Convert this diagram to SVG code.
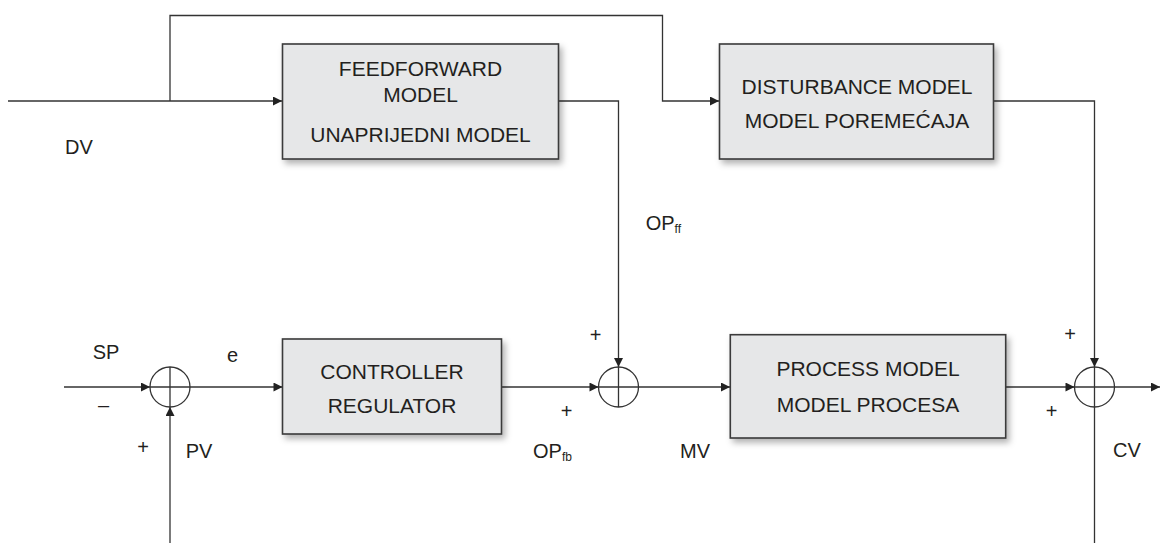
<svg xmlns="http://www.w3.org/2000/svg" width="1160" height="543" viewBox="0 0 1160 543">
<style>
  .box { fill: #e6e7e8; stroke: #3a3a3a; stroke-width: 1.6; filter: url(#shadow); }
  .bt { font-family: "Liberation Sans", Arial, sans-serif; font-size: 21px; fill: #231f20; text-anchor: middle; }
  .lb { font-family: "Liberation Sans", Arial, sans-serif; font-size: 20px; fill: #231f20; }
  .sm { font-size: 12px; }
  .ln { fill: none; stroke: #333; stroke-width: 1.3; }
  .ar { marker-end: url(#arrow); }
  .sum { fill: none; stroke: #333; stroke-width: 1.3; }
</style>
<defs>
  <marker id="arrow" viewBox="0 0 10 10" refX="10" refY="5" markerWidth="10" markerHeight="9" markerUnits="userSpaceOnUse" orient="auto">
    <path d="M0,0 L10,5 L0,10 z" fill="#222"/>
  </marker>
  <filter id="shadow" x="-10%" y="-10%" width="130%" height="140%">
    <feDropShadow dx="3" dy="4" stdDeviation="3" flood-color="#000" flood-opacity="0.3"/>
  </filter>
</defs>
<rect width="1160" height="543" fill="#fff"/>

<g id="connectors">
  <path class="ln ar" d="M8 101 H282"/>
  <path class="ln ar" d="M170 101 V15.5 H662.5 V101 H719"/>
  <path class="ln ar" d="M559 101 H618.5 V367"/>
  <path class="ln ar" d="M994 101 H1094.5 V367"/>
  <path class="ln ar" d="M64 387 H150"/>
  <path class="ln ar" d="M190 387 H282.5"/>
  <path class="ln ar" d="M170 543 V407"/>
  <path class="ln ar" d="M502 387 H598.5"/>
  <path class="ln ar" d="M638.5 387 H730"/>
  <path class="ln ar" d="M1006 387 H1074.5"/>
  <path class="ln ar" d="M1114.5 387 H1160"/>
  <path class="ln" d="M1094.5 407 V543"/>
</g>

<g id="sum1">
  <circle class="sum" cx="170" cy="387" r="20"/>
  <path class="sum" d="M150 387 H190 M170 367 V407"/>
</g>
<g id="sum2">
  <circle class="sum" cx="618.5" cy="387" r="20"/>
  <path class="sum" d="M598.5 387 H638.5 M618.5 367 V407"/>
</g>
<g id="sum3">
  <circle class="sum" cx="1094.5" cy="387" r="20"/>
  <path class="sum" d="M1074.5 387 H1114.5 M1094.5 367 V407"/>
</g>

<g id="feedforward">
  <rect class="box" x="282.5" y="44" width="276" height="115"/>
  <text class="bt" x="420.5" y="75.7">FEEDFORWARD</text>
  <text class="bt" x="420.5" y="101.7">MODEL</text>
  <text class="bt" x="420.5" y="141.7">UNAPRIJEDNI MODEL</text>
</g>

<g id="disturbance">
  <rect class="box" x="719.5" y="44" width="274" height="115"/>
  <text class="bt" x="857" y="94">DISTURBANCE MODEL</text>
  <text class="bt" x="857" y="128.3">MODEL POREMEĆAJA</text>
</g>

<g id="controller">
  <rect class="box" x="282.5" y="339" width="219" height="95"/>
  <text class="bt" x="392" y="379.3">CONTROLLER</text>
  <text class="bt" x="392" y="413.3">REGULATOR</text>
</g>

<g id="process">
  <rect class="box" x="730.3" y="334.7" width="275.4" height="103.3"/>
  <text class="bt" x="868" y="375.7">PROCESS MODEL</text>
  <text class="bt" x="868" y="412.3">MODEL PROCESA</text>
</g>

<g id="labels">
  <text class="lb" x="65" y="154">DV</text>
  <text class="lb" x="92.7" y="359">SP</text>
  <text class="lb" x="227" y="362">e</text>
  <text class="lb" x="98" y="412.4">–</text>
  <text class="lb" x="143" y="453.7" text-anchor="middle">+</text>
  <text class="lb" x="185.7" y="458">PV</text>
  <text class="lb" x="595.7" y="342" text-anchor="middle">+</text>
  <text class="lb" x="566.7" y="418" text-anchor="middle">+</text>
  <text class="lb" x="645.7" y="230">OP<tspan class="sm" dy="3">ff</tspan></text>
  <text class="lb" x="533" y="458">OP<tspan class="sm" dy="3">fb</tspan></text>
  <text class="lb" x="680" y="458">MV</text>
  <text class="lb" x="1070" y="341" text-anchor="middle">+</text>
  <text class="lb" x="1051.7" y="418" text-anchor="middle">+</text>
  <text class="lb" x="1113" y="456.7">CV</text>
</g>
</svg>
